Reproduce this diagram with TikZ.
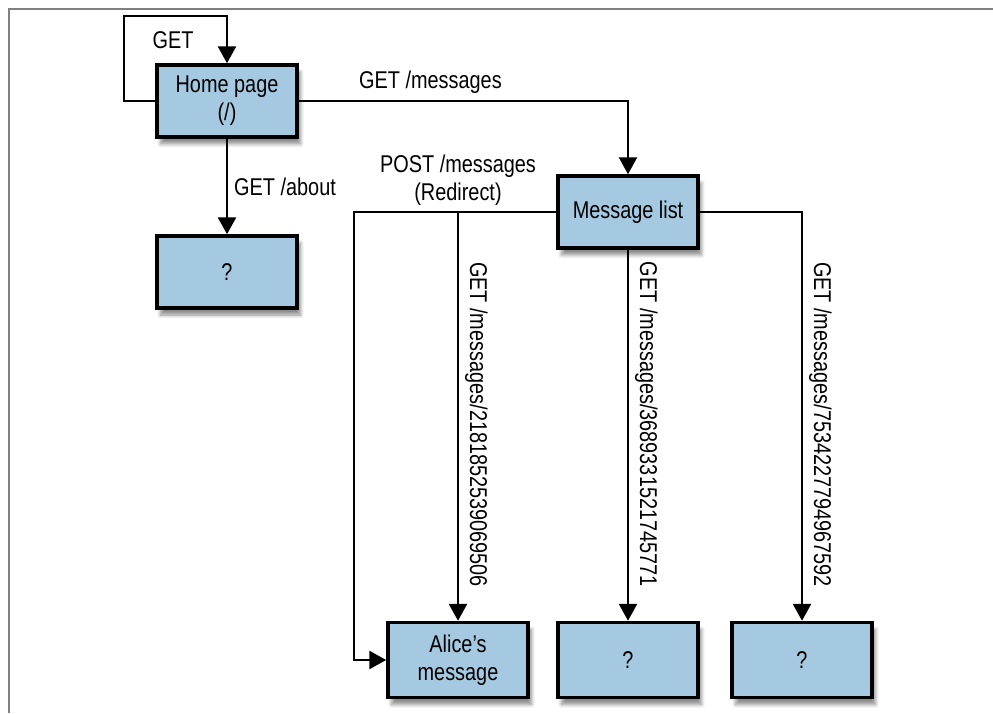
\documentclass[tikz,border=0pt]{standalone}
\usepackage{fontspec}
\setmainfont[FakeStretch=0.82]{Liberation Sans}
\usetikzlibrary{arrows.meta}
\usetikzlibrary{shadows.blur}
\definecolor{pageblue}{HTML}{A5C9E1}

\begin{document}
\begin{tikzpicture}[x=0.02cm, y=-0.02cm, font=\fontsize{13.8}{16}\selectfont,
		page/.style={draw, line width=2pt, fill=pageblue, minimum width=2.8cm, minimum height=1.44cm, align=center,
			blur shadow={shadow xshift=0.7mm, shadow yshift=-1.4mm, shadow opacity=45, shadow blur steps=8}},
		link/.style={line width=1.5pt, -{Triangle[width=3.6mm, length=3.4mm]}},
		vlabel/.style={rotate=-90, anchor=south}]
		\useasboundingbox (0,0) rectangle (993,713);
		\draw[gray, line width=0.8pt] (993,9) -- (9,9) -- (9,713);

		\node[page] (home) at (227,101) {Home page\\(/)};
		\node[page] (about) at (227,272) {?};
		\node[page] (list) at (628,212) {Message list};
		\node[page, minimum height=1.5cm] (alice) at (458,660) {Alice's\\message};
		\node[page, minimum height=1.5cm] (msgb) at (628,660) {?};
		\node[page, minimum height=1.5cm] (msgc) at (802,660) {?};

		\coordinate (loop) at (124,16);
		\coordinate (post) at (354,212);
		\coordinate (fork) at (458,212);

		\draw[link] (home.west) -| (loop) -| (home.north);
		\node (getlbl) at (173,40) {GET};
		\draw[link] (home.east) -| (list.north) node[pos=0.2, above] (msgslbl) {GET /messages};
		\draw[link] (home) -- (about) node[midway, right] (aboutlbl) {GET /about};
		\draw[link] (list.west) -- (post) |- (alice.west);
		\node[above, align=center] (postlbl) at (fork) {POST /messages\\(Redirect)};
		\draw[link] (fork) -- (alice.north) node[pos=0.52, vlabel] (alicelbl) {GET /messages/2181852539069506};
		\draw[link] (list) -- (msgb) node[pos=0.47, vlabel] (msgblbl) {GET /messages/3689331521745771};
		\draw[link] (list.east) -| (msgc.north) node[pos=0.76, vlabel] (msgclbl) {GET /messages/7534227794967592};
	\end{tikzpicture}
\end{document}
